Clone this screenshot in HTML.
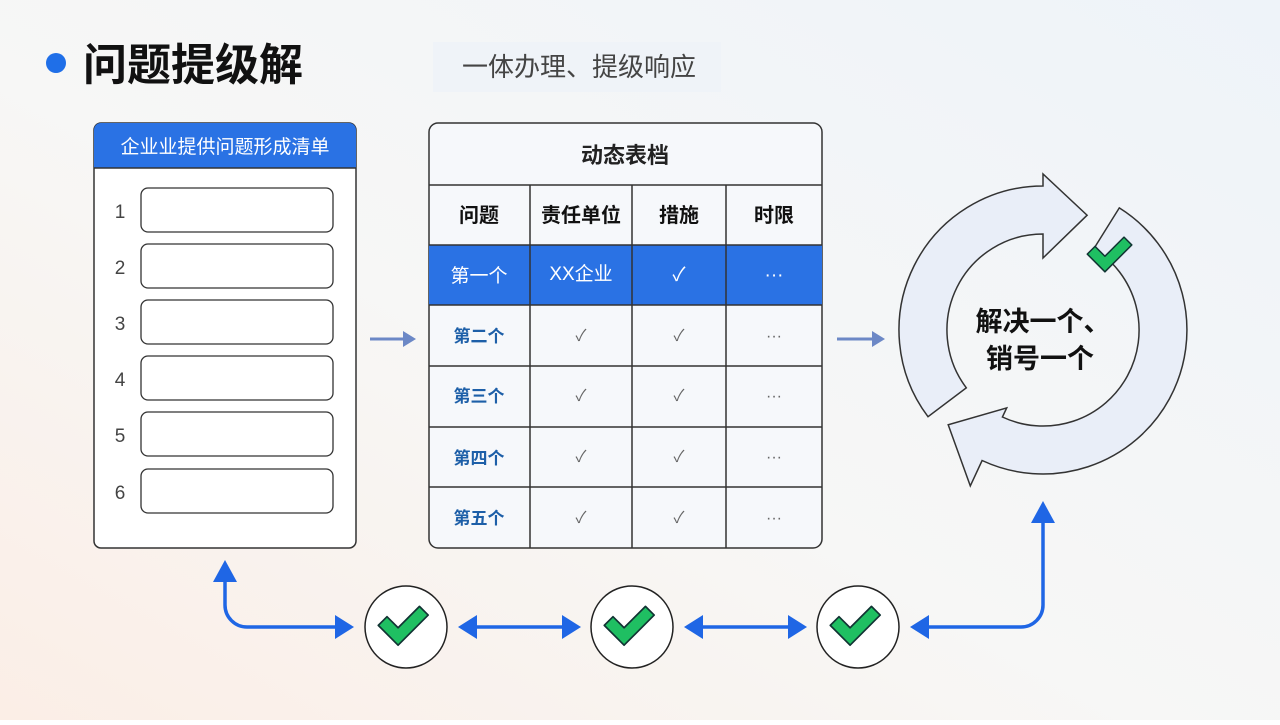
<!DOCTYPE html>
<html><head><meta charset="utf-8"><style>
html,body{margin:0;padding:0;}
body{width:1280px;height:720px;overflow:hidden;font-family:"Liberation Sans","Noto Sans CJK SC",sans-serif;}
svg text{font-family:"Liberation Sans","Noto Sans CJK SC",sans-serif;}
</style></head><body>
<svg id="s" width="1280" height="720" viewBox="0 0 1280 720" xmlns="http://www.w3.org/2000/svg">
<defs>
<linearGradient id="bg" x1="0" y1="1" x2="1" y2="0"><stop offset="0" stop-color="#fbeee6"/><stop offset="0.45" stop-color="#f7f7f6"/><stop offset="1" stop-color="#eef3f9"/></linearGradient>
</defs>
<rect width="1280" height="720" fill="url(#bg)"/>
<circle cx="56" cy="63" r="10" fill="#1f6fe8"/>
<text x="83" y="80" font-size="44" font-weight="bold" fill="#111">问题提级解</text>
<rect x="433" y="42" width="288" height="50" fill="#eef2f7" opacity="0.8"/>
<text x="462" y="76" font-size="26" fill="#444">一体办理、提级响应</text>

<rect x="94" y="123" width="262" height="425" rx="7" fill="#fff" stroke="#333" stroke-width="1.5"/>
<path d="M94 168 V130 a7 7 0 0 1 7 -7 H349 a7 7 0 0 1 7 7 V168 Z" fill="#2a72e4"/>
<line x1="94" y1="168" x2="356" y2="168" stroke="#333" stroke-width="1.5"/>
<text x="225" y="153" font-size="19" fill="#fff" text-anchor="middle">企业业提供问题形成清单</text>
<g font-size="19" fill="#444" text-anchor="middle">
<text x="120" y="218">1</text><text x="120" y="274">2</text><text x="120" y="330">3</text><text x="120" y="386">4</text><text x="120" y="442">5</text><text x="120" y="499">6</text>
</g>
<g fill="#fff" stroke="#333" stroke-width="1.3">
<rect x="141" y="188" width="192" height="44" rx="7"/><rect x="141" y="244" width="192" height="44" rx="7"/><rect x="141" y="300" width="192" height="44" rx="7"/><rect x="141" y="356" width="192" height="44" rx="7"/><rect x="141" y="412" width="192" height="44" rx="7"/><rect x="141" y="469" width="192" height="44" rx="7"/>
</g>

<g stroke="#6c88c6" stroke-width="3" fill="#6c88c6">
<line x1="370" y1="339" x2="405" y2="339"/><path d="M416 339 L403 331 L403 347 Z" stroke="none"/>
<line x1="837" y1="339" x2="873" y2="339"/><path d="M885 339 L872 331 L872 347 Z" stroke="none"/>
</g>

<rect x="429" y="123" width="393" height="425" rx="9" fill="#f6f8fb" stroke="#333" stroke-width="1.5"/>
<rect x="429" y="245" width="393" height="60" fill="#2a72e4"/>
<g stroke="#333" stroke-width="1.5">
<line x1="429" y1="185" x2="822" y2="185"/><line x1="429" y1="245" x2="822" y2="245"/><line x1="429" y1="305" x2="822" y2="305"/><line x1="429" y1="366" x2="822" y2="366"/><line x1="429" y1="427" x2="822" y2="427"/><line x1="429" y1="487" x2="822" y2="487"/>
<line x1="530" y1="185" x2="530" y2="548"/><line x1="632" y1="185" x2="632" y2="548"/><line x1="726" y1="185" x2="726" y2="548"/>
</g>
<text x="625" y="163" font-size="22" font-weight="bold" fill="#222" text-anchor="middle">动态表档</text>
<g font-size="20" fill="#111" text-anchor="middle" font-weight="bold">
<text x="479" y="222">问题</text><text x="581" y="222">责任单位</text><text x="679" y="222">措施</text><text x="774" y="222">时限</text>
</g>
<g font-size="19" fill="#fff" text-anchor="middle">
<text x="479" y="282">第一个</text><text x="581" y="280">XX企业</text><text x="679" y="281">✓</text><text x="774" y="281">···</text>
</g>
<g font-size="17" font-weight="bold" fill="#1d5fa8" text-anchor="middle">
<text x="479" y="342">第二个</text><text x="479" y="402">第三个</text><text x="479" y="464">第四个</text><text x="479" y="524">第五个</text>
</g>
<g font-size="16" fill="#666" text-anchor="middle">
<text x="581" y="341">✓</text><text x="679" y="341">✓</text><text x="774" y="341">···</text>
<text x="581" y="401">✓</text><text x="679" y="401">✓</text><text x="774" y="401">···</text>
<text x="581" y="462">✓</text><text x="679" y="462">✓</text><text x="774" y="462">···</text>
<text x="581" y="523">✓</text><text x="679" y="523">✓</text><text x="774" y="523">···</text>
</g>

<g id="ring" fill="#e9eef8" stroke="#333" stroke-width="1.5" stroke-linejoin="miter"></g>
<text x="1043" y="331" font-size="27" font-weight="bold" fill="#111" text-anchor="middle">解决一个、</text>
<text x="1040" y="368" font-size="27" font-weight="bold" fill="#111" text-anchor="middle">销号一个</text>

<g stroke="#1f66e5" stroke-width="3.5" fill="none">
<path d="M225 580 V605 a22 22 0 0 0 22 22 H340"/>
<line x1="472" y1="627" x2="566" y2="627"/>
<line x1="698" y1="627" x2="792" y2="627"/>
<path d="M924 627 H1021 a22 22 0 0 0 22 -22 V518"/>
</g>
<g fill="#1f66e5">
<path d="M225 560 L213 582 L237 582 Z"/>
<path d="M354 627 L335 615 L335 639 Z"/>
<path d="M458 627 L477 615 L477 639 Z"/><path d="M581 627 L562 615 L562 639 Z"/>
<path d="M684 627 L703 615 L703 639 Z"/><path d="M807 627 L788 615 L788 639 Z"/>
<path d="M910 627 L929 615 L929 639 Z"/><path d="M1043 501 L1031 523 L1055 523 Z"/>
</g>
<g id="checks"></g>
</svg>
<script>
var ns="http://www.w3.org/2000/svg";
var cx=1043,cy=330,R=144,r=96;
function P(rad,a){a=a*Math.PI/180;return (cx+rad*Math.cos(a)).toFixed(1)+" "+(cy+rad*Math.sin(a)).toFixed(1);}
function arrow(a0,ab,at,Rh,rh,mid){
 var sweep=((ab-a0)%360+360)%360;
 var large=sweep>180?1:0;
 var d="M"+P(R,a0)+" A"+R+" "+R+" 0 "+large+" 1 "+P(R,ab)+" L"+P(Rh,ab)+" L"+P(mid,at)+" L"+P(rh,ab)+" L"+P(r,ab)+" A"+r+" "+r+" 0 "+large+" 0 "+P(r,a0)+" Z";
 var p=document.createElementNS(ns,"path");p.setAttribute("d",d);document.getElementById("ring").appendChild(p);
}
arrow(143,270,291,156,72,123);
arrow(302,115,135,172,86,134);
function check(x,y,s,parent){
 var p=document.createElementNS(ns,"path");
 p.setAttribute("d","M0 0 h38 v-11 h-27 v-14 h-11 z");
 p.setAttribute("transform","translate("+x+","+y+") scale("+s+") rotate(-45) translate(-19,9)");
 p.setAttribute("fill","#1fbf62");p.setAttribute("stroke","#133");p.setAttribute("stroke-width","1.5");p.setAttribute("stroke-linejoin","round");parent.appendChild(p);
}
var g=document.getElementById("checks");
[406,632,858].forEach(function(x){
 var c=document.createElementNS(ns,"circle");c.setAttribute("cx",x);c.setAttribute("cy",627);c.setAttribute("r",41);c.setAttribute("fill","#fff");c.setAttribute("stroke","#222");c.setAttribute("stroke-width","1.5");g.appendChild(c);
 check(x,623,1.12,g);
});
check(1112,252,1.0,g);
</script>
</body></html>
